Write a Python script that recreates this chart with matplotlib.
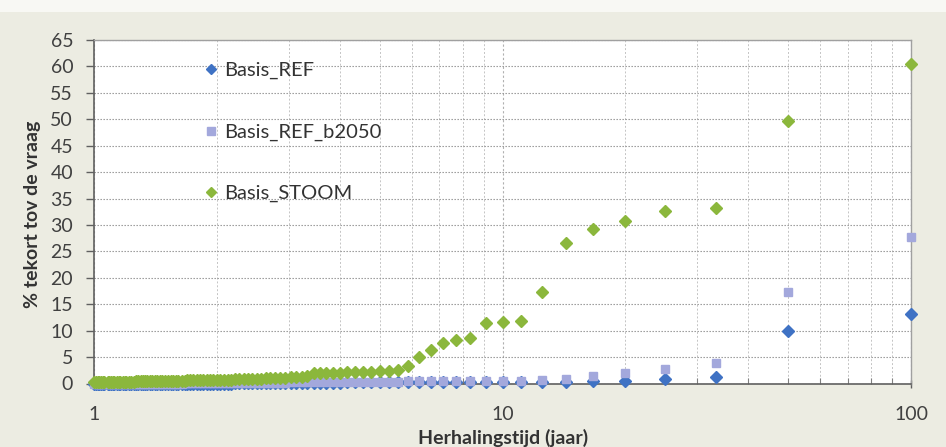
import matplotlib
matplotlib.use("Agg")
import matplotlib.pyplot as plt
from matplotlib.ticker import FixedLocator, NullFormatter, FixedFormatter

# Return period (years), rank 1..100
herhalingstijd = [100.0, 50.0, 33.33, 25.0, 20.0, 16.67, 14.29, 12.5, 11.11, 10.0,
                  9.09, 8.33, 7.69, 7.14, 6.67, 6.25, 5.88, 5.56, 5.26, 5.0,
                  4.76, 4.55, 4.35, 4.17, 4.0, 3.85, 3.70, 3.57, 3.45, 3.33,
                  3.23, 3.13, 3.03, 2.94, 2.86, 2.78, 2.70, 2.63, 2.56, 2.5,
                  2.44, 2.38, 2.33, 2.27, 2.22, 2.17, 2.13, 2.08, 2.04, 2.0,
                  1.96, 1.92, 1.89, 1.85, 1.82, 1.79, 1.75, 1.72, 1.69, 1.67,
                  1.64, 1.61, 1.59, 1.56, 1.54, 1.52, 1.49, 1.47, 1.45, 1.43,
                  1.41, 1.39, 1.37, 1.35, 1.33, 1.32, 1.30, 1.28, 1.27, 1.25,
                  1.23, 1.22, 1.20, 1.19, 1.18, 1.16, 1.15, 1.14, 1.12, 1.11,
                  1.10, 1.09, 1.08, 1.06, 1.05, 1.04, 1.03, 1.02, 1.01, 1.0]

basis_ref = [13.2, 10.0, 1.2, 0.9, 0.5, 0.4, 0.35, 0.3, 0.3, 0.3,
             0.3, 0.3, 0.3, 0.3, 0.3, 0.3, 0.25, 0.25, 0.25, 0.2,
             0.2, 0.2, 0.2, 0.2, 0.15, 0.15, 0.15, 0.15, 0.1, 0.1,
             0.1, 0.1, 0.1, 0.1, 0.1, 0.05, 0.05, 0.05, 0.05, 0.05,
             0.05, 0.05, 0.05, 0.05, 0.05, 0.0, 0.0, 0.0, 0.0, 0.0,
             0.0, 0.0, 0.0, 0.0, 0.0, 0.0, 0.0, 0.0, 0.0, 0.0,
             0.0, 0.0, 0.0, 0.0, 0.0, 0.0, 0.0, 0.0, 0.0, 0.0,
             0.0, 0.0, 0.0, 0.0, 0.0, 0.0, 0.0, 0.0, 0.0, 0.0,
             0.0, 0.0, 0.0, 0.0, 0.0, 0.0, 0.0, 0.0, 0.0, 0.0,
             0.0, 0.0, 0.0, 0.0, 0.0, 0.0, 0.0, 0.0, 0.0, 0.0]

basis_ref_b2050 = [27.8, 17.4, 3.8, 2.8, 2.0, 1.5, 0.9, 0.7, 0.5, 0.5,
                   0.45, 0.45, 0.4, 0.4, 0.4, 0.4, 0.4, 0.35, 0.35, 0.35,
                   0.3, 0.3, 0.3, 0.3, 0.3, 0.25, 0.25, 0.25, 0.25, 0.2,
                   0.2, 0.2, 0.2, 0.15, 0.15, 0.15, 0.15, 0.15, 0.1, 0.1,
                   0.1, 0.1, 0.1, 0.1, 0.1, 0.1, 0.05, 0.05, 0.05, 0.05,
                   0.05, 0.05, 0.05, 0.05, 0.05, 0.05, 0.05, 0.05, 0.05, 0.05,
                   0.0, 0.0, 0.0, 0.0, 0.0, 0.0, 0.0, 0.0, 0.0, 0.0,
                   0.0, 0.0, 0.0, 0.0, 0.0, 0.0, 0.0, 0.0, 0.0, 0.0,
                   0.0, 0.0, 0.0, 0.0, 0.0, 0.0, 0.0, 0.0, 0.0, 0.0,
                   0.0, 0.0, 0.0, 0.0, 0.0, 0.0, 0.0, 0.0, 0.0, 0.0]

basis_stoom = [60.4, 49.7, 33.3, 32.6, 30.7, 29.2, 26.5, 17.4, 11.8, 11.6,
               11.5, 8.7, 8.3, 7.7, 6.4, 5.1, 3.3, 2.6, 2.4, 2.3,
               2.2, 2.2, 2.1, 2.1, 2.0, 2.0, 2.0, 1.9, 1.9, 1.5,
               1.3, 1.2, 1.2, 1.1, 1.1, 1.0, 1.0, 1.0, 0.9, 0.9,
               0.85, 0.85, 0.8, 0.8, 0.8, 0.75, 0.75, 0.75, 0.7, 0.7,
               0.7, 0.7, 0.65, 0.65, 0.65, 0.6, 0.6, 0.6, 0.6, 0.55,
               0.55, 0.55, 0.55, 0.5, 0.5, 0.5, 0.5, 0.5, 0.45, 0.45,
               0.45, 0.45, 0.45, 0.4, 0.4, 0.4, 0.4, 0.4, 0.4, 0.35,
               0.35, 0.35, 0.35, 0.35, 0.35, 0.3, 0.3, 0.3, 0.3, 0.3,
               0.3, 0.3, 0.3, 0.3, 0.3, 0.3, 0.3, 0.3, 0.3, 0.3]

series_names = ["Basis_REF", "Basis_REF_b2050", "Basis_STOOM"]
y_ticks = list(range(0, 70, 5))
x_major = [1, 10, 100]
x_major_labels = ["1", "10", "100"]
x_minor = [2, 3, 4, 5, 6, 7, 8, 9, 20, 30, 40, 50, 60, 70, 80, 90]

plt.rcParams['font.family'] = ['Lato', 'DejaVu Sans']

W, H = 946, 447
fig = plt.figure(figsize=(W / 100, H / 100), dpi=100)
fig.patch.set_facecolor('#ECECE2')
# white strip at top of the scanned image
fig.patches.append(plt.Rectangle((0, 1 - 12 / H), 1, 12 / H, transform=fig.transFigure,
                                 facecolor='#F8F8F4', edgecolor='none', zorder=0))

ax = fig.add_axes([94 / W, 1 - 383.5 / H, (911 - 94) / W, (383.5 - 40) / H])
ax.set_facecolor('white')
ax.set_xscale('log')
ax.set_xlim(1, 100)
ax.set_ylim(0, 65)

ax.xaxis.set_major_locator(FixedLocator(x_major))
ax.xaxis.set_major_formatter(FixedFormatter(x_major_labels))
ax.xaxis.set_minor_locator(FixedLocator(x_minor))
ax.xaxis.set_minor_formatter(NullFormatter())
ax.set_yticks(y_ticks)

ax.grid(True, which='major', axis='y', color='#8E8E8E', linewidth=0.8, linestyle=(0, (1.2, 1.5)))
ax.grid(True, which='major', axis='x', color='#B0B0B0', linewidth=0.8, linestyle=(0, (2, 2)))
ax.grid(True, which='minor', axis='x', color='#C4C4C4', linewidth=0.7, linestyle=(0, (2, 2)))
ax.set_axisbelow(True)

for side in ['left', 'bottom']:
    ax.spines[side].set_color('#606060')
    ax.spines[side].set_linewidth(1.2)
for side in ['top', 'right']:
    ax.spines[side].set_color('#A0A0A0')
    ax.spines[side].set_linewidth(1.0)

ax.tick_params(axis='y', which='major', length=6, width=1, color='#606060',
               labelsize=14, labelcolor='#404040', pad=9)
ax.tick_params(axis='x', which='major', length=6, width=1, color='#606060', direction='inout',
               labelsize=14, labelcolor='#404040', pad=13)
ax.tick_params(axis='x', which='minor', length=4, width=0.8, color='#808080', direction='in')

ax.plot(herhalingstijd, basis_ref, linestyle='none', marker='D', ms=5.8,
        color='#3F72C4', mec='#3F72C4', label=series_names[0], clip_on=False, zorder=3)
ax.plot(herhalingstijd, basis_ref_b2050, linestyle='none', marker='s', ms=6.0,
        color='#A3A8DC', mec='#A3A8DC', label=series_names[1], clip_on=False, zorder=4)
ax.plot(herhalingstijd, basis_stoom, linestyle='none', marker='D', ms=5.8,
        color='#8BB73C', mec='#8BB73C', label=series_names[2], clip_on=False, zorder=5)

leg = ax.legend(loc='upper left', bbox_to_anchor=(0.12, 0.96), frameon=False,
                fontsize=14.5, labelspacing=2.2, handletextpad=0.1, handlelength=1.1,
                borderaxespad=0, markerscale=0.85)
for t in leg.get_texts():
    t.set_color('#333333')

fig.text(33 / W, 1 - 214 / H, '% tekort tov de vraag', rotation=90, ha='center', va='center',
         fontsize=14, fontweight='bold', color='#333333')
fig.text(503 / W, 1 - 438 / H, 'Herhalingstijd (jaar)', ha='center', va='center',
         fontsize=14, fontweight='bold', color='#333333')

fig.savefig('out.png', dpi=100, facecolor=fig.get_facecolor())
